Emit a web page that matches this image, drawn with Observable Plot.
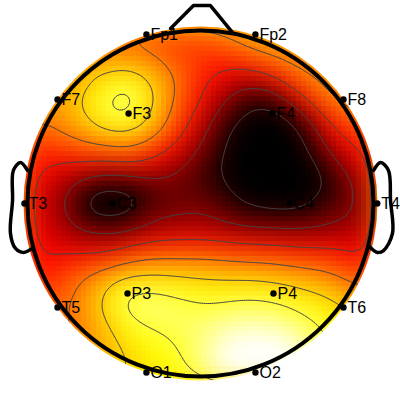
<!DOCTYPE html>
<html><head><meta charset="utf-8">
<style>html,body{margin:0;padding:0;background:#fff}svg{display:block}</style>
<script src="https://cdn.jsdelivr.net/npm/d3@7"></script>
<script src="https://cdn.jsdelivr.net/npm/@observablehq/plot@0.6"></script>
</head><body><div id="c"></div>
<script>
// Potential field on the scalp: rows from front to back, columns from left to right
const rowA=[.5,.5,.5,.5,.5,.48,.46,.47,.55,.62,.65,.65,.65,.65,.65];
const rowB=[.55,.56,.57,.57,.56,.52,.46,.44,.47,.54,.58,.6,.62,.62,.62];
const rowC=[.6,.6,.6,.71,.77,.67,.54,.42,.33,.27,.36,.52,.6,.6,.6];
const rowD=[.6,.6,.67,.8,.9,.72,.52,.37,.18,.04,.05,.3,.5,.58,.6];
const rowE=[.5,.53,.6,.7,.74,.66,.46,.26,.05,-.07,-.1,.02,.31,.46,.5];
const rowF=[.4,.42,.44,.46,.5,.42,.3,.16,.01,-.12,-.15,-.04,.17,.33,.4];
const rowG=[.39,.3,.22,.15,.15,.18,.16,.09,.02,-.12,-.18,-.12,.02,.2,.33];
const rowH=[.34,.26,.11,-.14,-.1,.12,.14,.17,.09,0,-.03,-.03,.09,.17,.3];
const rowI=[.36,.3,.2,.16,.16,.23,.26,.26,.23,.21,.2,.19,.2,.24,.31];
const rowJ=[.37,.36,.36,.36,.44,.5,.5,.51,.49,.47,.46,.43,.42,.37,.36];
const rowK=[.42,.42,.52,.62,.72,.73,.71,.69,.68,.68,.66,.63,.6,.52,.45];
const rowL=[.5,.5,.56,.69,.85,.88,.84,.8,.81,.83,.81,.76,.72,.66,.58];
const rowM=[.5,.5,.54,.63,.75,.8,.83,.88,.93,.95,.93,.87,.79,.72,.65];
const rowN=[.55,.55,.56,.61,.68,.73,.77,.88,1.02,1.12,1.1,.99,.82,.72,.65];
const rowO=[.55,.55,.6,.65,.68,.71,.75,.84,.98,1.08,1.04,.93,.78,.7,.65];
const gridRows=[rowA,rowB,rowC,rowD,rowE,rowF,rowG,rowH,rowI,rowJ,rowK,rowL,rowM,rowN,rowO];
const contourLevels=[.03,.2,.37,.54,.68,.8];

const sites=["Fp1","Fp2","F7","F3","F4","F8","T3","C3","C4","T4","T5","P3","P4","T6","O1","O2"];
const siteX=[-.309,.314,-.817,-.411,.411,.817,-1.006,-.503,.509,1.01,-.817,-.417,.417,.817,-.309,.314];
const siteY=[.966,.966,.594,.514,.514,.594,0,0,0,0,-.594,-.514,-.514,-.594,-.966,-.966];

const noseX=[-.171,-.04,.057,.183];
const noseY=[1.0,1.131,1.131,.977];
const earLX=[-.989,-1.029,-1.069,-1.074,-1.086,-1.057,-1.011,-.954];
const earLY=[.189,.234,.189,.017,-.171,-.257,-.28,-.251];
const earRX=[.989,1.029,1.074,1.086,1.097,1.046,1.011,.96];
const earRY=[.189,.234,.189,.017,-.171,-.269,-.28,-.24];

const points=gridRows.flatMap((row,j)=>row.map((v,i)=>({x:(i-7)/7,y:(7-j)/7,v})));
const electrodes=sites.map((name,i)=>({name,x:siteX[i],y:siteY[i]}));
const pts=(X,Y)=>X.map((x,i)=>({x,y:Y[i]}));

const plot=Plot.plot({
  width:400,height:400,margin:0,
  x:{domain:[-200/175,200/175],axis:null},
  y:{domain:[-197/175,203/175],axis:null},
  color:{type:"linear",domain:[0,.365,.746,1],range:["#000000","#ff0000","#ffff00","#ffffff"],clamp:true},
  marks:[
    Plot.raster(points,{x:"x",y:"y",fill:"v",interpolate:"barycentric",pixelSize:5,blur:2,imageRendering:"pixelated"}),
    Plot.contour(points,{x:"x",y:"y",value:"v",interpolate:"barycentric",thresholds:contourLevels,pixelSize:2,blur:5,stroke:"#444",strokeWidth:1,fill:"none"}),
    Plot.line(pts(noseX,noseY),{x:"x",y:"y",stroke:"black",strokeWidth:3.5}),
    Plot.line(pts(earLX,earLY),{x:"x",y:"y",stroke:"black",strokeWidth:3.5,curve:"catmull-rom"}),
    Plot.line(pts(earRX,earRY),{x:"x",y:"y",stroke:"black",strokeWidth:3.5,curve:"catmull-rom"}),
    Plot.dot([{x:0,y:0}],{x:"x",y:"y",r:173,fill:"none",stroke:"black",strokeWidth:4}),
    Plot.dot(electrodes,{x:"x",y:"y",r:3.2,fill:"black",stroke:"none"}),
    Plot.text(electrodes,{x:"x",y:"y",text:"name",dx:4,textAnchor:"start",fontSize:16,fontFamily:"Liberation Sans",fill:"black"})
  ]
});
// Clip the field and its contours to the head
const ns="http://www.w3.org/2000/svg";
const clip=document.createElementNS(ns,"clipPath");clip.setAttribute("id","head");
const circ=document.createElementNS(ns,"circle");
circ.setAttribute("cx",plot.scale("x").apply(0));circ.setAttribute("cy",plot.scale("y").apply(0));circ.setAttribute("r",177);
clip.appendChild(circ);plot.appendChild(clip);
plot.querySelectorAll('g[aria-label="raster"],g[aria-label="contour"]').forEach(g=>g.setAttribute("clip-path","url(#head)"));
document.getElementById("c").appendChild(plot);
</script></body></html>
